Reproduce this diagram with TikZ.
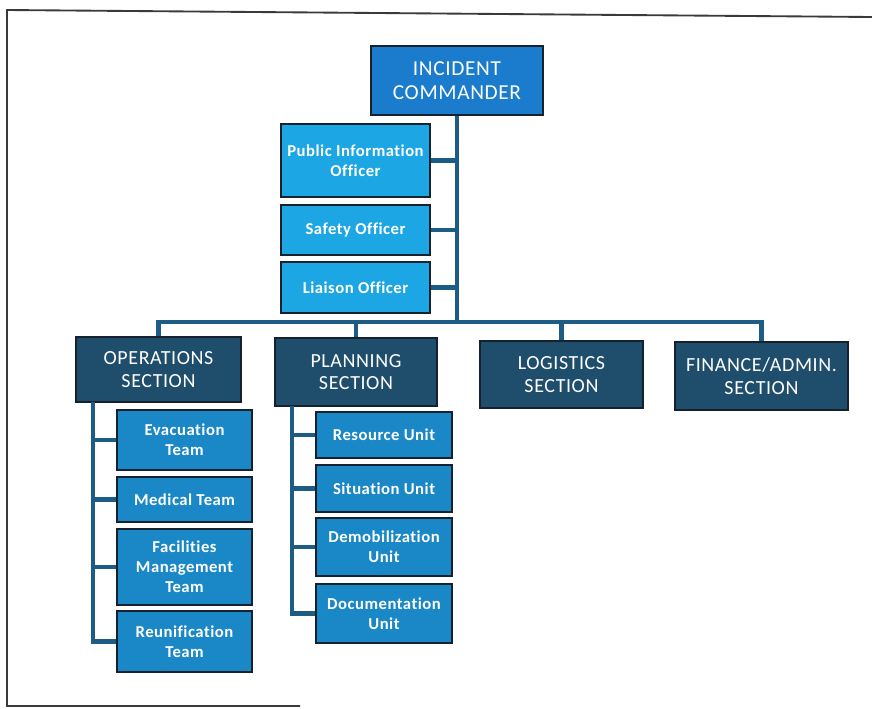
\documentclass[tikz,border=0pt]{standalone}
\usepackage{fontspec}
\setmainfont{Carlito}[Ligatures=CommonOff, LetterSpace=3]
\definecolor{icblue}{HTML}{1B7BCC}
\definecolor{offblue}{HTML}{1DA6E4}
\definecolor{secblue}{HTML}{1F4E6C}
\definecolor{unitblue}{HTML}{1A87C6}
\definecolor{boxline}{HTML}{15222D}
\definecolor{connblue}{HTML}{1D5D85}
\definecolor{framegray}{HTML}{3A3A3A}
\begin{document}
\begin{tikzpicture}[x=0.75pt,y=-0.75pt,
  box/.style={draw=boxline, line width=1.8pt, text=white, align=center, inner sep=1pt},
  icbox/.style={box, fill=icblue, font=\fontsize{16}{18}\selectfont},
  offbox/.style={box, fill=offblue, font=\fontsize{12.5}{15}\selectfont\bfseries},
  secbox/.style={box, fill=secblue, font=\fontsize{15}{17}\selectfont},
  unitbox/.style={box, fill=unitblue, font=\fontsize{12.5}{15}\selectfont\bfseries},
  conn/.style={draw=connblue, line width=3.2pt},
  frameline/.style={draw=framegray, line width=1.4pt}]
\useasboundingbox (0,0) rectangle (872,708);
% frame
\draw[frameline] (300,706) -- (7,706) -- (7,10) -- (872,17);
% coordinates
\coordinate (bus) at (457,322);
\coordinate (opsrail) at (93,402);
\coordinate (planrail) at (292,406);
% nodes
\node[icbox, minimum width=129pt, minimum height=51.75pt] (ic) at (457,80.5) {INCIDENT\\COMMANDER};
\node[offbox, minimum width=111.75pt, minimum height=54.75pt] (pio) at (355.5,160.5) {Public Information\\Officer};
\node[offbox, minimum width=111.75pt, minimum height=37.5pt] (safety) at (355.5,230) {Safety Officer};
\node[offbox, minimum width=111.75pt, minimum height=38.25pt] (liaison) at (355.5,287.5) {Liaison Officer};
\node[secbox, minimum width=123.75pt, minimum height=48.75pt] (ops) at (158.5,369.5) {OPERATIONS\\SECTION};
\node[secbox, minimum width=121.5pt, minimum height=51pt] (plan) at (356,372) {PLANNING\\SECTION};
\node[secbox, minimum width=122.25pt, minimum height=50.25pt] (log) at (561.5,374.5) {LOGISTICS\\SECTION};
\node[secbox, minimum width=129.75pt, minimum height=51pt] (fin) at (761.5,376) {FINANCE/ADMIN.\\SECTION};
\node[unitbox, minimum width=101.25pt, minimum height=45pt] (evac) at (184.5,440) {Evacuation\\Team};
\node[unitbox, minimum width=101.25pt, minimum height=33.75pt] (med) at (184.5,499.5) {Medical Team};
\node[unitbox, minimum width=101.25pt, minimum height=57pt] (fac) at (184.5,567) {Facilities\\Management\\Team};
\node[unitbox, minimum width=101.25pt, minimum height=45.75pt] (reun) at (184.5,641.5) {Reunification\\Team};
\node[unitbox, minimum width=102pt, minimum height=34.5pt] (res) at (384,435) {Resource Unit};
\node[unitbox, minimum width=102pt, minimum height=35.25pt] (sit) at (384,488.5) {Situation Unit};
\node[unitbox, minimum width=102pt, minimum height=43.5pt] (demob) at (384,547) {Demobilization\\Unit};
\node[unitbox, minimum width=102pt, minimum height=44.25pt] (doc) at (384,613.5) {Documentation\\Unit};
% connectors
\draw[conn] (ic.south) -- (bus);
\draw[conn] (pio.east) -- (pio.east -| ic.south);
\draw[conn] (safety.east) -- (safety.east -| ic.south);
\draw[conn] (liaison.east) -- (liaison.east -| ic.south);
\draw[conn] (ops.north) -- (ops.north |- bus) -- (fin.north |- bus) -- (fin.north);
\draw[conn] (plan.north) -- (plan.north |- bus);
\draw[conn] (log.north) -- (log.north |- bus);
\draw[conn] (opsrail) |- (evac.west);
\draw[conn] (opsrail) |- (med.west);
\draw[conn] (opsrail) |- (fac.west);
\draw[conn] (opsrail) |- (reun.west);
\draw[conn] (planrail) |- (res.west);
\draw[conn] (planrail) |- (sit.west);
\draw[conn] (planrail) |- (demob.west);
\draw[conn] (planrail) |- (doc.west);
\end{tikzpicture}
\end{document}
